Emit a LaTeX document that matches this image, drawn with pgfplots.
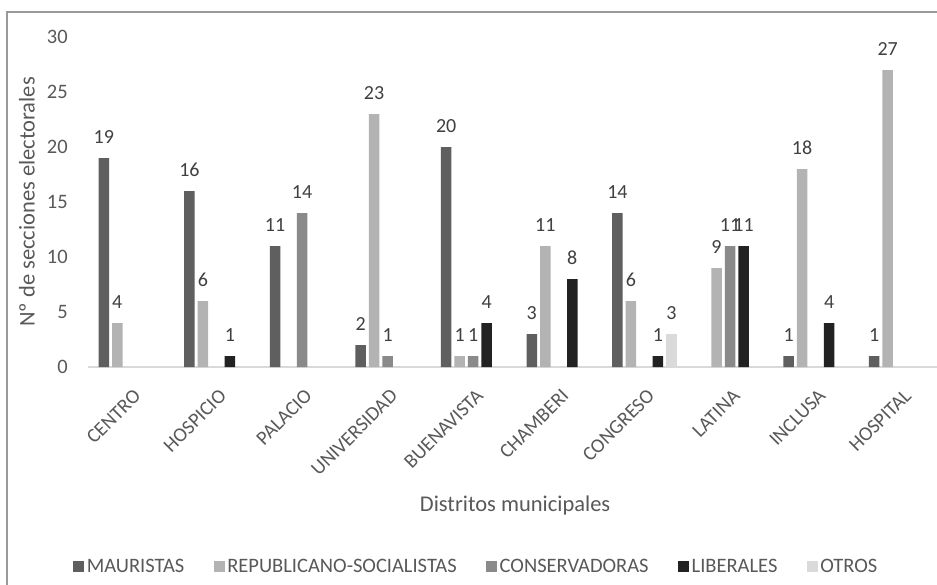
\documentclass[border=0pt]{standalone}
\usepackage{pgfplots}
\pgfplotsset{compat=1.18}
\usepackage{fontspec}
\setmainfont{Carlito}
\definecolor{cM}{HTML}{5F5F5F}
\definecolor{cR}{HTML}{B3B3B3}
\definecolor{cC}{HTML}{8A8A8A}
\definecolor{cL}{HTML}{222222}
\definecolor{cO}{HTML}{DADADA}
\definecolor{txt}{HTML}{595959}
\definecolor{lbl}{HTML}{404040}
\definecolor{axl}{HTML}{D9D9D9}
\begin{document}
\begin{tikzpicture}[x=1pt,y=1pt]
\fill[white] (-88,-217) rectangle (849,367);
\draw[color=black!40, line width=1.4pt] (-81,-300) rectangle (900,355);
\begin{axis}[
  at={(0,0)}, anchor=south west, scale only axis,
  width=856pt, height=330pt,
  ybar=3pt, bar width=10.5pt,
  ymin=0, ymax=30, ytick={0,5,...,30},
  xmin=-0.5, xmax=9.5,
  xtick={0,...,9},
  xticklabels={CENTRO,HOSPICIO,PALACIO,UNIVERSIDAD,BUENAVISTA,CHAMBERI,CONGRESO,LATINA,INCLUSA,HOSPITAL},
  axis x line=bottom, axis y line=left,
  x axis line style={-, draw=axl, line width=1.2pt},
  y axis line style={draw=none},
  major tick length=0pt,
  tick style={draw=none},
  /pgf/number format/assume math mode=true,
  yticklabel style={font=\fontsize{20.5}{24}\selectfont, text=txt, xshift=-16.7pt},
  xticklabel style={font=\fontsize{20}{24}\selectfont, text=txt, inner sep=0pt, xshift=6.6pt, yshift=-25.6pt, rotate=45, anchor=east},
  ylabel={Nº de secciones electorales},
  ylabel style={font=\fontsize{22.5}{26}\selectfont, text=txt, at={(axis description cs:-0.0713,0.5)}, anchor=center, rotate=0},
  xlabel={Distritos municipales},
  xlabel style={font=\fontsize{22.5}{26}\selectfont, text=txt, at={(axis description cs:0.499,-0.42)}, anchor=center},
  nodes near coords,
  every node near coord/.append style={font=\fontsize{20}{24}\selectfont, text=lbl, inner sep=0pt, anchor=south, yshift=14pt},
  legend columns=5,
  legend style={at={(axis description cs:0.454,-0.606)}, anchor=center, draw=none, fill=none,
    font=\fontsize{20.5}{24}\selectfont, text=txt,
    nodes={inner sep=2.5pt},
    /tikz/every even column/.append style={column sep=27pt}},
  every axis plot/.append style={draw=none},
  legend image code/.code={\fill[#1] (0pt,-5.5pt) rectangle (11pt,5.5pt);},
]
\addplot[fill=cM] coordinates {(0,19)(1,16)(2,11)(3,2)(4,20)(5,3)(6,14)(8,1)(9,1)};
\addplot[fill=cR] coordinates {(0,4)(1,6)(3,23)(4,1)(5,11)(6,6)(7,9)(8,18)(9,27)};
\addplot[fill=cC] coordinates {(2,14)(3,1)(4,1)(7,11)};
\addplot[fill=cL] coordinates {(1,1)(4,4)(5,8)(6,1)(7,11)(8,4)};
\addplot[fill=cO] coordinates {(6,3)};
\legend{MAURISTAS,REPUBLICANO-SOCIALISTAS,CONSERVADORAS,LIBERALES,OTROS}
\end{axis}
\pgfresetboundingbox
\path[use as bounding box] (-88,-217) rectangle (849,367);
\end{tikzpicture}
\end{document}
